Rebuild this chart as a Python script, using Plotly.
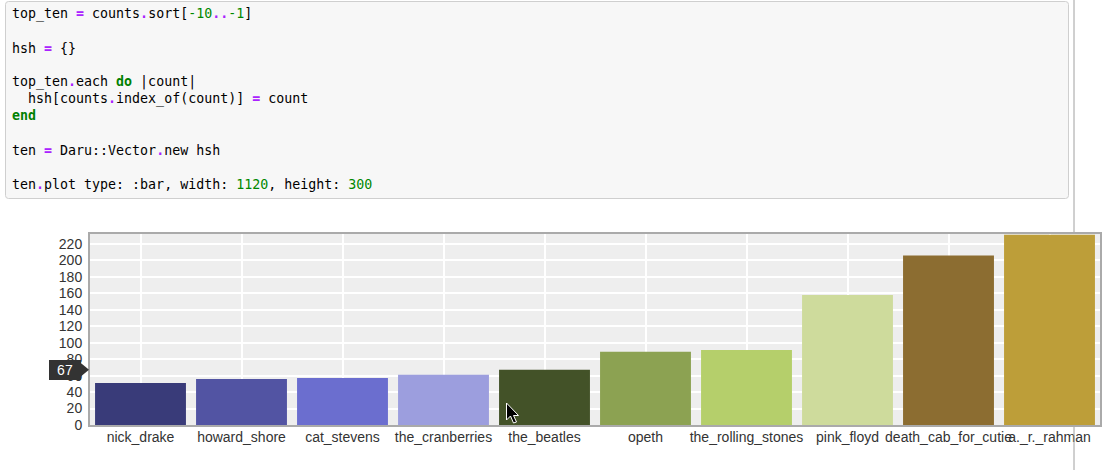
import plotly.graph_objects as go

# ---- data ----
artists = ["nick_drake", "howard_shore", "cat_stevens", "the_cranberries", "the_beatles",
           "opeth", "the_rolling_stones", "pink_floyd", "death_cab_for_cutie", "a._r._rahman"]
counts = [51, 56, 57, 61, 67, 89, 91, 158, 206, 231]
bar_colors = ["#393b79", "#5254a3", "#6b6ecf", "#9c9ede", "#435228",
              "#8ca252", "#b5cf6b", "#cedb9c", "#8c6d31", "#bd9e39"]
y_ticks = list(range(0, 221, 20))
hovered_index = 4  # the_beatles shows the tooltip

# ---- page geometry (pixels) ----
W, H = 1119, 470
PL, PR, PT, PB = 90, 1100, 234, 425


def px(x):
    return (x - PL) / (PR - PL)


def py(y):
    return (PB - y) / (PB - PT)


fig = go.Figure()
fig.add_trace(go.Bar(
    x=artists, y=counts,
    marker=dict(color=bar_colors, line=dict(width=0)),
    hoverinfo="skip",
))

# ---- code cell ----
OP = "color:#aa22ff;font-weight:bold"
NUM = "color:#008800"
KW = "color:#008000;font-weight:bold"


def s(style, t):
    return f'<span style="{style}">{t}</span>'


code_lines = [
    (14, "top_ten " + s(OP, "=") + " counts" + s(OP, ".") + "sort[" + s(NUM, "-10") + s(OP, "..") + s(NUM, "-1") + "]"),
    (48, "hsh " + s(OP, "=") + " {}"),
    (82, "top_ten" + s(OP, ".") + "each " + s(KW, "do") + " |count|"),
    (99, "\u00a0\u00a0hsh[counts" + s(OP, ".") + "index_of(count)] " + s(OP, "=") + " count"),
    (116, s(KW, "end")),
    (150, "ten " + s(OP, "=") + " Daru::Vector" + s(OP, ".") + "new hsh"),
    (184, "ten" + s(OP, ".") + "plot type: :bar, width: " + s(NUM, "1120") + ", height: " + s(NUM, "300")),
]

shapes = []
# code box with rounded corners
x0, x1, y0, y1, r = 5.5, 1068.5, 1.5, 198.5, 3
path = (f"M {px(x0 + r)},{py(y0)} L {px(x1 - r)},{py(y0)} Q {px(x1)},{py(y0)} {px(x1)},{py(y0 + r)} "
        f"L {px(x1)},{py(y1 - r)} Q {px(x1)},{py(y1)} {px(x1 - r)},{py(y1)} "
        f"L {px(x0 + r)},{py(y1)} Q {px(x0)},{py(y1)} {px(x0)},{py(y1 - r)} "
        f"L {px(x0)},{py(y0 + r)} Q {px(x0)},{py(y0)} {px(x0 + r)},{py(y0)} Z")
shapes.append(dict(type="path", path=path, xref="paper", yref="paper",
                   fillcolor="#f7f7f7", line=dict(color="#cfcfcf", width=1), layer="below"))

# notebook right edge line (hidden behind the chart)
for (ya, yb) in [(0, 232), (427, 470)]:
    shapes.append(dict(type="line", xref="paper", yref="paper",
                       x0=px(1074), x1=px(1074), y0=py(ya), y1=py(yb),
                       line=dict(color="#a0a0a0", width=1)))

# tooltip arrow pointing at the hovered value
tv = counts[hovered_index]
half = 7 / ((PB - PT) / 232)
shapes.append(dict(type="path", xref="paper", yref="y",
                   path=f"M {px(80.5)},{tv + half} L {px(89)},{tv} L {px(80.5)},{tv - half} Z",
                   fillcolor="#333333", line=dict(width=0)))

# mouse cursor
cur = [(0, 0), (0, 17), (4, 13), (7, 20), (10, 19), (7, 12.5), (12, 12.5)]
tipx, tipy = 506.5, 403
cpath = "M " + " L ".join(f"{px(tipx + a)},{py(tipy + b)}" for a, b in cur) + " Z"
shapes.append(dict(type="path", xref="paper", yref="paper", path=cpath,
                   fillcolor="#000000", line=dict(color="#ffffff", width=1)))

annotations = []
for cy, txt in code_lines:
    annotations.append(dict(
        text=txt, xref="paper", yref="paper", x=px(9.5), y=py(cy),
        xanchor="left", yanchor="middle", showarrow=False,
        font=dict(family="DejaVu Sans Mono", size=13.3, color="#000000"),
    ))

annotations.append(dict(
    text=str(tv), xref="paper", yref="y", x=px(65), y=tv,
    xanchor="center", yanchor="middle", showarrow=False,
    bgcolor="#333333", bordercolor="#333333", borderwidth=0, borderpad=2,
    width=28, height=16,
    font=dict(family="Liberation Sans", size=14, color="#ffffff"),
))

fig.update_layout(
    width=W, height=H,
    margin=dict(l=PL, r=W - PR, t=PT, b=H - PB, pad=0, autoexpand=False),
    paper_bgcolor="#ffffff", plot_bgcolor="#eeeeee",
    bargap=0.1, showlegend=False, hovermode=False,
    shapes=shapes, annotations=annotations,
    font=dict(family="Liberation Sans", size=14, color="#333333"),
)
fig.update_xaxes(
    type="category", range=[-0.5, len(artists) - 0.5],
    showgrid=True, gridcolor="#ffffff", gridwidth=1.5,
    showline=True, linecolor="#aaaaaa", linewidth=2, mirror=True,
    ticks="", tickangle=0, automargin=False, ticklabelstandoff=-2,
    tickfont=dict(family="Liberation Sans", size=14, color="#333333"),
    zeroline=False, fixedrange=True,
)
fig.update_yaxes(
    range=[0, 232], tickmode="array", tickvals=y_ticks, ticktext=[str(v) for v in y_ticks],
    showgrid=True, gridcolor="#ffffff", gridwidth=1.5,
    showline=True, linecolor="#aaaaaa", linewidth=2, mirror=True,
    ticks="", automargin=False, ticklabelstandoff=3,
    tickfont=dict(family="Liberation Sans", size=14, color="#333333"),
    zeroline=False, fixedrange=True,
)

fig.write_html("out.html", config={"displayModeBar": False},
               post_script="document.body.style.margin='0px';document.body.style.overflow='hidden';")
